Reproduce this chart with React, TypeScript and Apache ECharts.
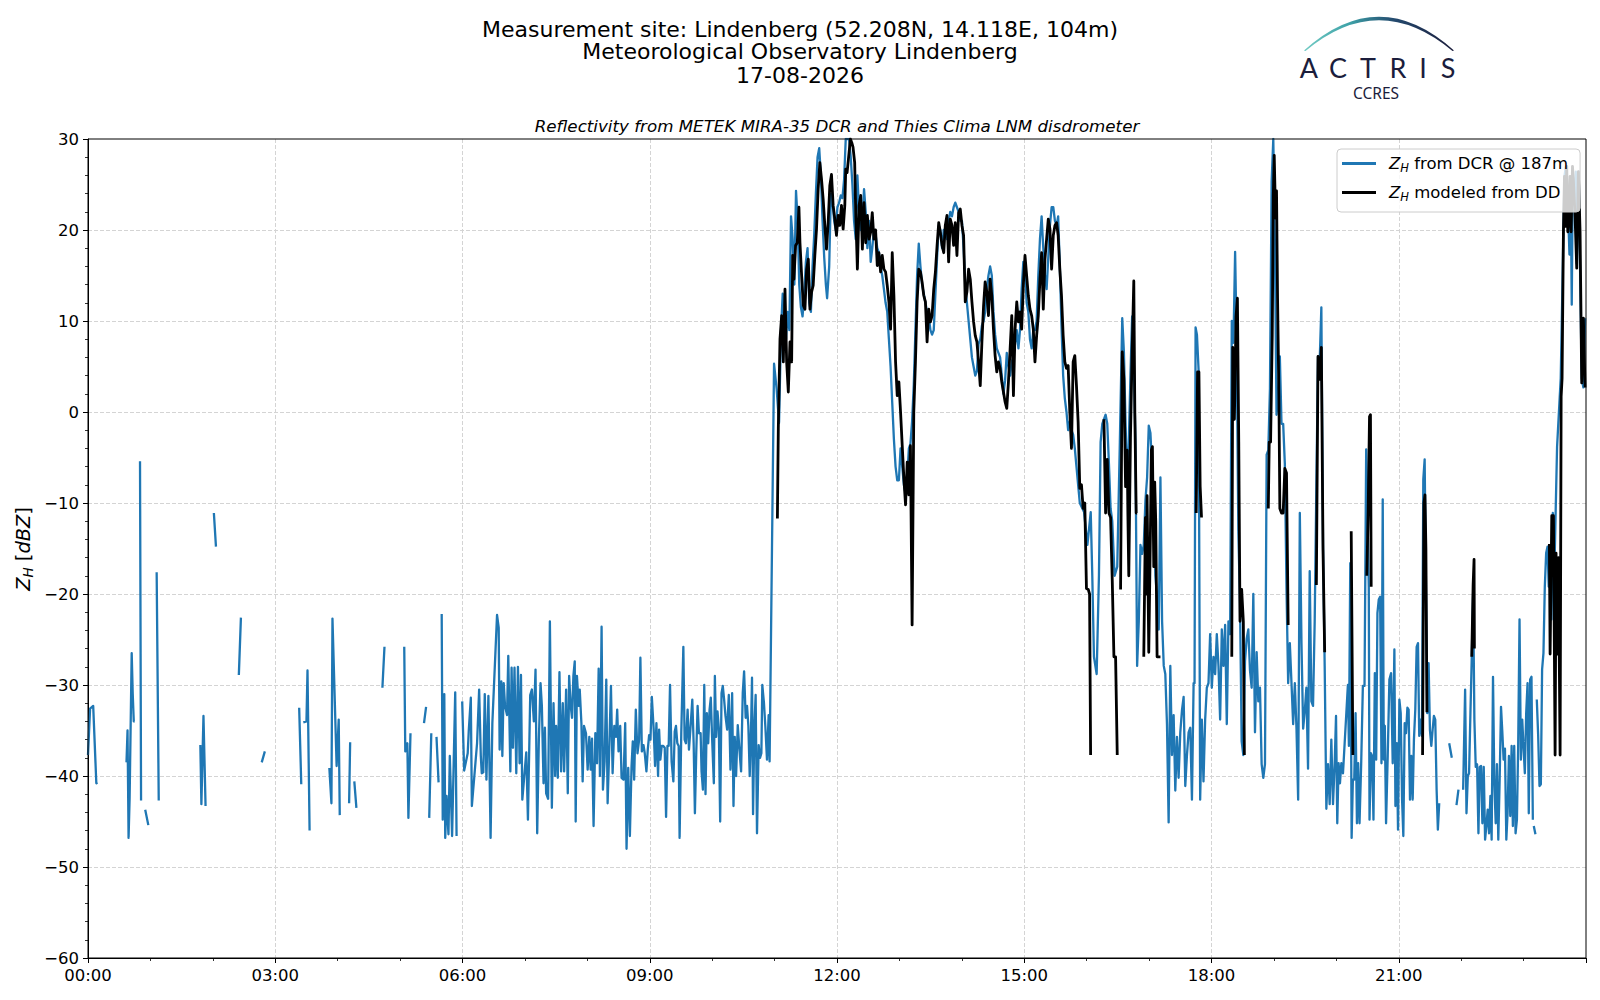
import React, { useEffect, useRef } from "react";
import * as echarts from "echarts";

// ---------- text ----------
const titleLines = [
  "Measurement site: Lindenberg (52.208N, 14.118E, 104m)",
  "Meteorological Observatory Lindenberg",
  "17-08-2026",
];
const subTitle = "Reflectivity from METEK MIRA-35 DCR and Thies Clima LNM disdrometer";
const seriesNames = ["Z_H from DCR @ 187m", "Z_H modeled from DD"];
const legendTails = [" from DCR @ 187m", " modeled from DD"];
const hourLabels = ["00:00", "03:00", "06:00", "09:00", "12:00", "15:00", "18:00", "21:00"];
const logoLetters = ["A", "C", "T", "R", "I", "S"];

// ---------- data: [minute of day, Z_H dBZ] (null = gap) ----------
type P = [number, number | null];

const dcrNight: P[] = [
  [0, -37.7], [2, -32.6], [5, -32.3], [8, -40.8], [9, -40.7], [20, null],
  [37, -38.5], [38, -35], [39, -46.8], [40, -42.5], [42, -26.5], [43, -31], [44, -34], [45, -34], [47, null],
  [50, -5.4], [51, -42.7], [53, null],
  [55, -43.7], [58, -45.4], [60, null],
  [66, -17.6], [68, -42.7], [80, null],
  [108, -36.6], [109, -43.1], [111, -33.4], [113, -43.3], [116, null],
  [121, -11.1], [123, -14.8], [130, null],
  [145, -28.9], [147, -22.6], [155, null],
  [167, -38.5], [170, -37.3], [185, null],
  [203, -32.5], [205, -40.9], [206, null],
  [207, -34.1], [210, -34], [211, -28.4], [213, -46], [220, null],
  [232, -39.1], [234, -43], [235, -22.7], [239, -38.9], [241, -33.8], [242, -44.3], [246, null],
  [251, -43], [252, -36.3], [254, null],
  [256, -40.6], [258, -43.5], [270, null],
  [283, -30.3], [285, -25.8], [295, null],
  [304, -25.8], [305, -37.3], [307, -36.4], [308, -44.6], [310, -35.3], [316, null],
  [323, -34.2], [325, -32.4], [326, null],
  [328, -44.6], [330, -35.3], [332, null],
  [335, -35.7], [337, -40.7], [338.5, null],
];

const dcrMorning: P[] = [
  [340, -22.2], [341, -44.8], [342.5, -31], [343.4, -46.8], [344.7, -42.2], [346.5, -46.4], [347.8, -37.8], [350, -46.6], [353, -30.8], [354.3, -46.6], [357, null],
  [359.7, -31.8], [361.6, -39.4], [365, -37.5], [366, -35.1], [368, -31.4], [369, -43.3], [374, -36.4], [376, -30.5], [377.6, -37.8], [378.5, -39.7],
  [380, -39.6], [381.4, -31], [383, -40.4], [384.9, -31.2], [387, -46.8], [388.7, -34.2], [393.2, -22.3], [394.8, -23.7], [395.7, -37.1], [397.3, -29.6],
  [398.3, -37.8], [399.6, -29.8], [400.9, -32.3], [402.8, -33.3], [404, -26.8], [406, -39.5], [407.2, -28.1], [408.5, -36.9], [410, -28.1], [411.7, -39.7],
  [413.3, -28], [414.9, -38.6], [416.2, -28.9], [417.5, -42.6], [421.3, -37.4], [422.9, -44.8], [425.1, -31.1], [426.7, -30.5], [428.6, -34], [430.2, -28.3],
  [431.8, -46.3], [433.4, -36], [435, -29.8], [436.3, -32.3], [437.9, -40.8], [439.2, -34.7], [440.4, -41.9], [442.3, -42.5], [444, -23], [445.9, -43.5],
  [447.5, -32], [449, -40], [450, -34.5], [451.6, -40.2], [453.2, -28.6], [454.8, -39.5], [456.4, -32], [457.7, -39.5], [459.6, -30.5], [461.2, -41.9],
  [462.5, -29], [464, -32.3], [465.3, -33.6], [466.6, -29], [467.9, -27.4], [468.8, -45], [470, -29], [471.7, -32.3], [472.7, -30.5], [474.3, -34.2],
  [475.5, -40.6], [476.8, -34.5], [478.7, -35.3], [480.3, -39.3], [481.9, -35.7], [483.2, -39.3], [484.5, -35.9], [486, -45.5], [487.7, -35.3], [489.3, -38.6],
  [490.9, -28.2], [492.1, -40], [493.7, -23.6], [495, -41.5], [496.6, -38.4], [498.2, -29.4], [499.5, -43], [501, -37.3], [502.7, -30.1], [504.3, -39.7],
  [505.9, -34.5], [507.5, -35.7], [508.7, -32.7], [510, -37.3], [511.6, -34.5], [512.9, -40.2], [514.8, -40.4], [516.4, -34.2], [517.7, -48], [519.3, -39.1],
  [520.9, -46.6], [522.5, -38.9], [523.7, -36.2], [525, -40.4], [526.6, -32.7], [528.2, -37.5], [529.8, -36], [531, -27], [532.4, -37.3], [534, -36.6],
  [535.2, -37.5], [536.8, -39.5], [538.1, -37.1], [539.4, -35.5], [540.7, -36], [542, -31.3], [543.8, -34.9], [545.1, -38.9], [546.4, -34.2], [548, -40],
  [549, -34.9], [550.2, -38.2], [551.5, -36.7], [553, -36.7], [554.4, -36.9], [555.7, -44.5], [557, -36.7], [558.2, -36.7], [559.5, -30], [561, -38.4],
  [562.7, -40.6], [564, -35.1], [565.2, -34.5], [566.5, -36.4], [567.8, -36.7], [568.7, -46.8], [570.3, -35.3], [572.3, -25.8], [573.5, -36], [574.8, -36.4],
  [576.4, -32.7], [577.7, -37.1], [579.3, -34.5], [580.9, -31.6], [582.2, -36.4], [583.4, -44.1], [584.7, -37.5], [586, -32.3], [587.3, -35.3], [588.9, -35.3],
  [589.8, -39.5], [591.1, -41.5], [592.4, -30], [593.6, -42], [594.9, -33.1], [596.2, -36.4], [597.5, -32.7], [598.7, -31.4], [600, -36], [601.6, -40.8],
  [602.6, -29], [603.8, -35.7], [605.1, -32.9], [606.4, -34.7], [607.7, -45], [609, -30.9], [610.2, -30.1], [611.5, -31.6], [612.8, -33.4], [614.4, -34.9],
  [616, -31.1], [617.6, -39.3], [619.2, -30.9], [620.5, -43.3], [621.7, -35.7], [623, -40], [624.6, -34.4], [626.2, -37.1], [627.8, -39.5], [629.4, -30.9],
  [630.7, -28.5], [632.2, -33.6], [633.5, -32.3], [634.8, -34.5], [636.1, -40], [637.4, -34.7], [638.3, -29.2], [639.3, -44.2], [640.6, -34.5], [641.8, -31.1],
  [643.1, -46.3], [644.7, -36.6], [646, -38], [647.3, -37.5], [648.2, -30], [649.8, -32], [651.1, -34.5], [652.7, -38.2], [654.3, -33.3], [655.2, -38.4],
  [657.5, -15],
];

const dcrRain: P[] = [
  [659.5, 5.3], [662, 2.5], [664.3, -1.2], [666.2, 9], [667.8, 13], [669.4, 12], [671, 8], [672.6, 11], [674.2, 9], [675.8, 21.5],
  [677.4, 19], [679, 14], [680.6, 24.3], [682.2, 21], [683.7, 14], [685.3, 11.5], [686.9, 10.5], [688.5, 13], [690.1, 16.5], [691.7, 18],
  [693.3, 12], [694.9, 11], [696.5, 16], [698.1, 19.5], [699.7, 24], [701.3, 28], [702.9, 29], [704.5, 26], [706.1, 21], [707.7, 17],
  [709.3, 14], [710.5, 12.5], [712.5, 16], [714.1, 24], [715.7, 23], [717.3, 21], [718.8, 20], [720.4, 22.5], [722, 23], [723.6, 23.8],
  [725.2, 23.5], [726.8, 25.5], [728.4, 30], [730, 30], [731.6, 30], [733.2, 28], [734.8, 25], [736.4, 21], [738, 19], [739.6, 26],
  [741.2, 22], [742.8, 20], [744.4, 21], [746, 24.5], [747.6, 22], [749.2, 18], [750.8, 21], [752.4, 16.5], [753.9, 18], [755.5, 20],
  [757.1, 19.5], [758.7, 18], [760.3, 17.5], [761.9, 16], [763.5, 15], [765.1, 13.5], [766.7, 12], [768.3, 11], [769.9, 8], [771.5, 5],
  [773.1, 1], [774.7, -3], [776.3, -6], [777.9, -7.5], [779.5, -7.5], [781.1, -4], [782.7, -6], [784.3, -8], [785.9, -9], [787.5, -7],
  [789.1, -4], [790.6, -3.5], [792.2, -1], [793.8, 3], [795.4, 9], [797, 15], [798.6, 18.5], [800.2, 16], [801.8, 14], [803.4, 13],
  [805, 12], [806.6, 11], [808.2, 10.5], [809.8, 9], [811.4, 8.5], [813, 9], [814.6, 13], [816.2, 17], [817.8, 20.5], [819.4, 20],
  [821, 18], [822.6, 20], [824.1, 19.5], [825.7, 19], [827.3, 21], [828.9, 22], [830.5, 21.5], [832.1, 22.5], [833.7, 23], [835.3, 22.5],
  [836.9, 22], [838.5, 21], [840.1, 21], [841.7, 18], [843.3, 14], [844.9, 12], [846.5, 10], [848.1, 8], [849.7, 6], [851.3, 5],
  [852.9, 4], [854.5, 4.5], [856.1, 7.5], [857.7, 8], [859.3, 9.5], [860.9, 10], [862.4, 11], [864, 13.5], [865.6, 15], [867.2, 16],
  [868.8, 15], [870.4, 11], [872, 8.5], [873.6, 7], [875.2, 6.5], [876.8, 6], [878.4, 4], [880, 2], [881.6, 3.5], [883.2, 6.5],
  [884.8, 5], [886.4, 4], [888, 5.5], [889.6, 6], [891.2, 7.5], [892.8, 9], [894.4, 7], [895.9, 9], [897.5, 13.5], [899.1, 16.5],
  [900.7, 16], [902.3, 12], [903.9, 11], [905.5, 8], [907.1, 7], [908.7, 9], [910.3, 9], [911.9, 10], [913.5, 15], [915.1, 19],
  [916.7, 21.5], [918.3, 18], [919.9, 15], [921.5, 13.5], [923.1, 17], [924.7, 20.5], [926.3, 22.5], [927.9, 22.5], [929.5, 21], [931.1, 20.5],
  [932.6, 21.5], [934.2, 16], [935.8, 9.5], [937.4, 4], [939, 1.5], [940.6, 0], [942.2, -2], [943.8, -1], [945.4, -2], [947, -2.5],
  [948.6, -4], [950.2, -6], [951.8, -8], [953.4, -10],
];

const dcrEvening: P[] = [
  [957.5, -11], [960.7, -14.6], [963.9, -11], [965.4, -18], [967, -26.9], [969.6, -28.8], [971.8, -18], [973.4, -3.3], [975, -1.3], [978.2, -0.3],
  [979.8, -1.3], [981.4, -5.7], [983, -10.6], [984.6, -12], [986.8, -18], [989.4, -17], [991.9, -3.3], [994.2, 10.3], [995.8, 6.6], [997.4, -1.3],
  [999, -8.2], [1000.5, -3.3], [1002.1, 4.1], [1003.7, 10.5], [1005.3, 5.6], [1006.9, -3.3], [1008.5, -27.9], [1010.1, -23], [1011.7, -14.6], [1013.3, -15.6],
  [1014.9, -14.6], [1016.5, -9.7], [1018.1, -7.2], [1019.7, -1.5], [1021.3, -2.3], [1022.9, -6.2], [1024.5, -10.2], [1026.1, -18], [1027.7, -20.5], [1029.3, -23.9],
  [1030.9, -7.2], [1032.5, -23], [1034.1, -27.9], [1035.6, -28.8], [1037.2, -34.3], [1038.8, -45.1], [1040.4, -27.9], [1042, -37.7], [1043.6, -33.3], [1045.2, -41.6],
  [1046.8, -35.7], [1048.4, -40.2], [1050, -35.2], [1051.6, -32.8], [1053.2, -31.3], [1054.8, -41.1], [1056.4, -37.7], [1058, -35.2], [1059.6, -34.7], [1061.2, -42.6],
  [1062.8, -29.8], [1063.7, -29.8], [1064.7, 9.3], [1066, 8.5], [1067.6, 4.6], [1069.1, -42.6], [1070.7, -33.8], [1072.3, -40.6], [1073.9, -33.8], [1075.5, -30.3],
  [1077.1, -29.8], [1078.7, -24.4], [1080.3, -30.3], [1081.9, -26.9], [1083.5, -28.8], [1085.1, -24.4], [1086.7, -27.9], [1088.3, -33.8], [1089.9, -23.9], [1091.5, -27.9],
  [1093.1, -23.4], [1094.7, -34.3], [1096.3, -23], [1097.9, -24.4], [1099.5, 10], [1101.1, 7.6], [1102.7, 17.6], [1104.2, 7.6], [1105.8, -13.1], [1107.4, -21],
  [1109, -36.2], [1110.6, -37.7], [1112.2, -27.4], [1113.8, -24.9], [1115.4, -23.9], [1117, -28.4], [1118.6, -30.3], [1120.2, -20], [1121.8, -35.2], [1123.4, -26.4],
  [1125, -31.8], [1126.6, -30.3], [1128.2, -38.7], [1129.8, -40.2], [1131.4, -38.7], [1133, -4.7], [1134.6, -4.2], [1136.2, 2.6], [1137.8, 25.3], [1139.4, 30],
  [1140.9, 18.9], [1142.5, -0.3], [1144.1, 1.7], [1145.7, 6.1], [1147.3, -1.3], [1148.9, -1.3], [1150.5, -5.7], [1152.1, -19.5], [1153.7, -29.8], [1155.3, -25.4],
  [1156.9, -29.8], [1158.5, -34.3], [1160.1, -29.8], [1161.7, -34.8], [1163.3, -42.6], [1164.9, -11.1], [1166.5, -25.4], [1168.1, -34.8], [1169.7, -32.8], [1171.2, -30.3],
  [1172.8, -39.2], [1174.4, -17.5], [1176, -31.8], [1177.6, -32.3], [1179.2, -23], [1180.8, -8.2], [1182.4, 6.1], [1184, 5.6], [1185.6, 11.5], [1187.2, -14.6],
  [1188.8, -27.9], [1190.4, -43.6], [1192, -38.7], [1193.6, -43.1], [1195.2, -36], [1196.8, -43.1], [1198.4, -38.7], [1199.7, -33.4], [1200.9, -45.2], [1202.2, -38.6],
  [1203.5, -40.8], [1204.8, -38.6], [1206.4, -39.7], [1208, -36.4], [1209.6, -33.1], [1211.1, -30], [1212.1, -36.7], [1213.4, -16.6], [1214.7, -46.8], [1215.9, -40.4],
  [1217.2, -40.4], [1218.5, -33.1], [1219.8, -45.2], [1221, -38.6], [1222.3, -45.2], [1223.9, -38.6], [1225.5, -30.1], [1227.1, -30.1], [1228.7, -4.1], [1230, -11.1],
  [1231.2, -19.2], [1231.9, -44.8], [1233.2, -37.5], [1234.4, -37.8], [1235.7, -44.8], [1237, -28.7], [1238.3, -38.2], [1239.5, -22.1], [1240.8, -20.6], [1242.1, -20.3],
  [1243.4, -38.6], [1244.6, -9.6], [1245.6, -38.2], [1246.6, -34.5], [1247.8, -45.2], [1249.4, -37.8], [1251, -29.4], [1252.6, -28.7], [1254.2, -38.6], [1255.8, -26.1],
  [1256.8, -43.3], [1258.1, -36.4], [1259.3, -45.9], [1260.6, -31.6], [1261.9, -33.1], [1263.2, -42.6], [1264.4, -46.6], [1265.7, -34.2], [1267, -35.3], [1268.3, -32.5],
  [1269.5, -32.7], [1270.8, -42.6], [1272.1, -37.8], [1273.4, -42.6], [1274.6, -36], [1275.9, -32.7], [1277.2, -25.8], [1278.5, -25.4], [1279.7, -35.6], [1281, -33.8],
  [1282.3, -35.6], [1283.6, -7.4], [1284.9, -5.2], [1286.1, -18.4], [1287.4, -33.1], [1288.7, -27.6], [1290, -35], [1291.3, -36.7], [1292.5, -35], [1293.8, -33.4],
  [1295.1, -33.8], [1296.4, -41.5], [1297.6, -45.9], [1298.9, -43], [1303, null],
  [1308.5, -36.4], [1311, -38], [1313, null],
  [1315.5, -43.2], [1317.4, -41.5], [1319.5, null],
  [1321.9, -41.5], [1323.8, -30.5], [1325.1, -44.1], [1326.4, -40], [1327.6, -39.7], [1328.9, -33.1], [1330.2, -26.9], [1331.5, -19.9], [1332.7, -33.8], [1334, -39],
  [1335.3, -38.7], [1336.6, -46.3], [1337.8, -39], [1339.1, -38.9], [1340.4, -45.2], [1341.7, -39], [1343, -47], [1344.2, -45.5], [1345.5, -43.7], [1346.8, -46.3],
  [1348.1, -42.2], [1349.3, -47], [1350.6, -29.1], [1351.9, -40.8], [1353.2, -45.2], [1354.4, -38.7], [1355.7, -47], [1357, -40.4], [1358.3, -32.4], [1359.5, -35],
  [1360.8, -38.2], [1362.1, -37], [1363.4, -47], [1364.6, -44.1], [1365.9, -37.8], [1367.2, -44.4], [1368.5, -36.7], [1369.7, -45.5], [1371, -36.7], [1372.3, -46.3],
  [1373.6, -44.8], [1374.8, -36.7], [1376.1, -22.8], [1377.4, -38.2], [1378.7, -33.8], [1379.9, -36.7], [1381.2, -39.7], [1382.5, -33.1], [1383.8, -29.8], [1385, -44.1],
  [1386.3, -29.4], [1387.6, -29.1], [1388.9, -44.8], [1389.3, null],
  [1389.8, -45.5], [1391.4, -46.4], [1392, null],
  [1392.7, -31.6], [1394, -35.5], [1395.3, -41.1], [1396.6, -40.9], [1397.8, -28.3], [1399.1, -26.5], [1400.4, -19.2], [1401.7, -15.5], [1403, -14.8], [1404.2, -19.2],
  [1405.5, -14.8], [1406.8, -22.8], [1408.1, -11.1], [1409.3, -19.2], [1410.6, -12.2], [1412.2, -3.8], [1415.7, 3.7], [1416.7, 9.8], [1418.3, 19.8], [1419.3, 25.9],
  [1420.5, 26.9], [1421.5, 26], [1423.1, 20.9], [1424.1, 17.3], [1425.3, 24.9], [1426.3, 11.8], [1427.3, 26], [1428.6, 23.9], [1430.2, 26.4], [1431.1, 16.3],
  [1432.1, 24], [1433, 26.4], [1434.3, 15.8], [1435.9, 3.7], [1437.5, 2.7], [1439.1, 10.3],
];

const ddRain: P[] = [
  [662.7, -11.7], [663.6, -1.8], [665.2, 8], [666.8, 10.6], [668.4, 5.5], [670, 13.5], [671.6, 5.5], [673.2, 2.2], [674.8, 7.7], [676.4, 5.5],
  [677.4, 17.2], [678.6, 14.6], [680.2, 18.3], [681.8, 18.6], [683.4, 22.5], [684.4, 18.6], [686, 15], [687.6, 11.7], [689.2, 11.3], [690.8, 15.7],
  [692.4, 16.8], [694, 11.3], [695.6, 13.2], [697.1, 13.9], [698.7, 17.2], [700.3, 20.1], [701.9, 24.5], [703.5, 27.4], [705.1, 25.6], [706.7, 23.4],
  [708.3, 20.5], [709.9, 17.9], [711.5, 20.8], [713.1, 24.9], [714.7, 26.1], [716.3, 22.7], [717.9, 21.2], [719.5, 19.4], [721.1, 21.6], [722.7, 20.5],
  [724.3, 22.7], [725.9, 20.1], [727.5, 22.7], [728.4, 26.7], [729.7, 26.3], [731.6, 28.5], [732.9, 30], [734.2, 29.6], [735.4, 29.1], [737, 27.4],
  [738, 21.9], [739.6, 15.7], [741.2, 22.7], [742.8, 23.8], [744.4, 17.9], [746, 23], [747.6, 18.6], [749.2, 21.6], [750.8, 19], [752.4, 19.8],
  [753.9, 21.9], [755.5, 19], [757.1, 20], [758.7, 16.1], [760.3, 17.5], [761.9, 15.4], [763.5, 17.2], [765.1, 15.7], [766.7, 15.4], [768.3, 13.9],
  [769.9, 12.1], [771.5, 9.1], [773.1, 17.5], [774.7, 12.8], [776.3, 5.5], [777.9, 1.8], [779.5, 3.3], [781.1, 0], [782.7, -3.7], [784.3, -7.3],
  [785.9, -10.2], [787.5, -5.5], [789.1, -9.1], [790.6, -3.7], [792.2, -23.4], [793.8, 0], [795.4, 5.5], [797, 12.1], [798.6, 15.7], [800.2, 15.4],
  [801.8, 14.3], [803.4, 12.8], [805, 12.1], [806.6, 7.7], [808.2, 11.3], [809.8, 9.9], [811.4, 10.6], [813, 13.5], [814.6, 15.4], [816.2, 18.3],
  [817.8, 20.8], [819.4, 19.7], [821, 18.3], [822.6, 17.5], [824.1, 20.5], [825.7, 21.6], [827.3, 16.5], [828.9, 21.2], [830.5, 20.5], [832.1, 18.3],
  [833.7, 20.8], [835.3, 17.2], [836.9, 21.9], [838.5, 22.3], [840.1, 20.5], [841.7, 19.4], [843.3, 12.1], [844.9, 13.2], [846.5, 15.7], [848.1, 14.6],
  [849.7, 12.1], [851.3, 9.9], [852.9, 8.4], [854.5, 7.7], [856.1, 5.5], [857.7, 2.9], [859.3, 7.7], [860.9, 11.7], [862.4, 14.3], [864, 13.2],
  [865.6, 10.6], [867.2, 14.6], [868.8, 12.8], [870.4, 9.1], [872, 6.2], [873.6, 4.4], [875.2, 5.5], [876.8, 4.8], [878.4, 3.3], [880, 2.2],
  [881.6, 1.1], [883.2, 0.4], [884.8, 3.3], [886.4, 6.9], [888, 10.6], [889.6, 1.8], [891.2, 9.1], [892.8, 12.1], [894.4, 9.9], [895.9, 11],
  [897.5, 9.1], [899.1, 13.9], [900.7, 17.2], [902.3, 15], [903.9, 12.8], [905.5, 11.3], [907.1, 10.6], [908.7, 9.1], [910.3, 5.5], [911.9, 8.4],
  [913.5, 10.6], [915.1, 14.6], [916.7, 17.5], [918.3, 11.3], [919.9, 16.8], [921.5, 19], [923.1, 21.2], [924.7, 20.1], [926.3, 15.7], [927.9, 19.4],
  [929.5, 20.5], [931.1, 20.8], [932.6, 19.4], [934.2, 15.7], [935.8, 12.8], [937.4, 8.4], [939, 5.5], [940.6, 4.8], [942.2, 5.1], [943.8, 0],
  [945.4, -4], [947, 5.5], [948.6, 6.2], [950.2, 2.9], [951.8, -1.1], [953.4, -8.4], [955, -8], [956.6, -10.6], [958.2, -10], [959.8, -19.4],
  [961.5, -19.5], [962.8, -20], [963.8, -37.7], [965, null],
];

const ddShowers: P[] = [
  [976.6, -0.8], [978.2, -11.1], [979.8, -5.2], [981.4, -11.1], [983, -11.6], [984.6, -18.5], [986.2, -26.9], [987.8, -26.9], [989.4, -37.7], [991, null],
  [992.6, -19.5], [994.2, 6.6], [995.8, 3.6], [997.4, -8.2], [999, -4.2], [999.6, -11.1], [1000.5, -18], [1002.1, -2.8], [1003.7, 6.6], [1005.3, 14.4],
  [1006.3, 0], [1007.6, -11.1], [1008.5, -11.1], [1010, null],
  [1014.9, -26.9], [1016.5, -11.6], [1017.5, -20], [1018.1, -9.2], [1019.7, -26.4], [1021.3, -13.1], [1022.2, -4.2], [1023.2, -3.8], [1024.5, -17], [1025.4, -7.7],
  [1026.4, -12], [1027.7, -26.9], [1030.9, -26.9], [1033, null],
  [1065.3, -11.1], [1066.6, 4.4], [1067.9, 4.4], [1069.1, -8.2], [1070.4, -11.6], [1072, null],
  [1099.5, -26.9], [1100.4, 7.1], [1102, -0.8], [1103.6, 10.5], [1104.9, 12.5], [1106.2, -3.3], [1107.4, -23], [1109, -19.5], [1110.6, -23], [1111.6, -37.7], [1113, null],
  [1134.6, -10.6], [1135.5, -3.3], [1136.8, -3.3], [1138.4, 8.5], [1139.4, 23.8], [1140.3, 28.2], [1141.6, 21.3], [1142.5, 24.3], [1143.5, 12.5], [1144.8, 1.7],
  [1145.7, -10.6], [1147.3, -11.1], [1148.9, -11.1], [1150.5, -6.2], [1152.1, -6.7], [1153.7, -23.4], [1155, null],
  [1180.8, -19], [1182.4, 6.1], [1184, 3.6], [1185.6, 7.1], [1187.2, -15.1], [1188.8, -26.4], [1190, null],
  [1214.3, -13.1], [1215.9, -37.7], [1217, null],
  [1229.3, -18], [1230.6, -10.9], [1231.9, -0.5], [1232.8, -0.3], [1233.5, -19.2], [1235, null],
  [1282.9, -37.7], [1284.2, -10], [1285.2, -9.1], [1286.1, -15], [1287.1, -33], [1289, null],
  [1330.2, -26.9], [1331.5, -19], [1332.4, -16.2], [1332.7, -26], [1334, null],
  [1404.8, -14.5], [1405.5, -26.6], [1407.1, -11.4], [1408.7, -11.4], [1410.3, -37.7], [1411.2, -15.5], [1412.5, -26.6], [1413.5, -16], [1415.1, -37.7], [1416.1, 1.7],
  [1417, 3.7], [1418.3, 19.8], [1419.3, 25.9], [1420.5, 20.4], [1421.5, 27], [1422.5, 19.8], [1423.7, 21.4], [1424.7, 25.9], [1425.7, 19.8], [1427, 27],
  [1427.9, 25.4], [1429.5, 21.4], [1431.1, 15.8], [1432.7, 26.4], [1434.3, 19.8], [1435.9, 3.2], [1437.5, 10.3], [1439.1, 2.7],
];

const FONT = "DejaVu Sans";
const NAVY = "#1b1d3c";

echarts.graphic.registerShape(
  "actrisArc",
  echarts.graphic.extendPath("M1304,50.5 Q1379,-17 1454,50.5 L1452.5,51 Q1379,-10.5 1305.5,51 Z", {})
);

const toSeries = (pts: P[]) => pts.map(([t, v]) => [t, v === null ? "-" : v]);

export default function App() {
  const ref = useRef<HTMLDivElement>(null);

  useEffect(() => {
    if (!ref.current) return;
    const chart = echarts.init(ref.current, null, { renderer: "svg" });

    const dcrData = toSeries([...dcrNight, ...dcrMorning, ...dcrRain, ...dcrEvening]);
    const ddData = toSeries([...ddRain, ...ddShowers]);

    const letterX = [1309, 1338, 1368, 1398, 1423, 1448];
    const GL = 88, GT = 139, GW = 1498, GH = 819;

    const option: any = {
      animation: false,
      backgroundColor: "#ffffff",
      textStyle: { fontFamily: FONT },
      grid: { left: GL, top: GT, width: GW, height: GH, show: false, containLabel: false },
      xAxis: {
        type: "value",
        min: 0,
        max: 1440,
        interval: 180,
        axisLine: { show: true, onZero: false, lineStyle: { color: "#000", width: 1 } },
        axisTick: { show: true, length: 5, lineStyle: { color: "#000", width: 1 } },
        minorTick: { show: true, splitNumber: 3, length: 3, lineStyle: { color: "#000", width: 0.8 } },
        axisLabel: {
          color: "#000",
          fontSize: 16.5,
          fontFamily: FONT,
          margin: 9,
          formatter: (v: number) => hourLabels[Math.round(v / 180)] ?? "",
        },
        splitLine: { show: true, showMinLine: false, showMaxLine: false, lineStyle: { color: "#d4d4d4", width: 1, type: [4, 2] } },
      },
      yAxis: {
        type: "value",
        min: -60,
        max: 30,
        interval: 10,
        axisLine: { show: true, onZero: false, lineStyle: { color: "#000", width: 1 } },
        axisTick: { show: true, length: 5, lineStyle: { color: "#000", width: 1 } },
        minorTick: { show: true, splitNumber: 5, length: 3, lineStyle: { color: "#000", width: 0.8 } },
        axisLabel: {
          color: "#000",
          fontSize: 16.5,
          fontFamily: FONT,
          margin: 9,
          formatter: (v: number) => (v < 0 ? "\u2212" + Math.abs(v) : String(v)),
        },
        splitLine: { show: true, showMinLine: false, showMaxLine: false, lineStyle: { color: "#d4d4d4", width: 1, type: [4, 2] } },
      },
      legend: {
        orient: "vertical",
        left: 1337,
        top: 149,
        padding: [6, 12, 9, 5],
        itemGap: 10,
        itemWidth: 34,
        itemHeight: 2.8,
        icon: "rect",
        backgroundColor: "rgba(255,255,255,0.8)",
        borderColor: "#cccccc",
        borderWidth: 1,
        borderRadius: 4,
        data: seriesNames,
        formatter: (name: string) => {
          const i = seriesNames.indexOf(name);
          return "{z|Z}{h|H}{t|" + legendTails[i] + "}";
        },
        textStyle: {
          color: "#000",
          fontFamily: FONT,
          fontSize: 16.5,
          rich: {
            z: { fontFamily: FONT, fontStyle: "italic", fontSize: 16.5, lineHeight: 21, padding: [0, 0, 0, 8], color: "#000" },
            h: { fontFamily: FONT, fontStyle: "italic", fontSize: 11.5, verticalAlign: "bottom", lineHeight: 13, color: "#000" },
            t: { fontFamily: FONT, fontSize: 16.5, lineHeight: 21, color: "#000" },
          },
        },
      },
      series: [
        {
          name: seriesNames[0],
          type: "line",
          data: dcrData,
          showSymbol: false,
          symbol: "none",
          connectNulls: false,
          silent: true,
          color: "#1f77b4",
          lineStyle: { color: "#1f77b4", width: 2.3, join: "round" },
          z: 2,
        },
        {
          name: seriesNames[1],
          type: "line",
          data: ddData,
          showSymbol: false,
          symbol: "none",
          connectNulls: false,
          silent: true,
          color: "#000000",
          lineStyle: { color: "#000000", width: 2.8, join: "round" },
          z: 3,
        },
      ],
      graphic: [
        {
          type: "rect",
          silent: true,
          z: 100,
          shape: { x: GL, y: GT, width: GW, height: GH },
          style: { fill: "none", stroke: "#000", lineWidth: 1 },
        },
        ...titleLines.map((t, i) => ({
          type: "text",
          x: 800,
          y: [29, 51.5, 75][i],
          silent: true,
          style: { text: t, fontFamily: FONT, fontSize: 22, fill: "#000", align: "center", verticalAlign: "middle" },
        })),
        {
          type: "text",
          x: 837,
          y: 126,
          silent: true,
          style: { text: subTitle, fontFamily: FONT, fontStyle: "italic", fontSize: 16.7, fill: "#000", align: "center", verticalAlign: "middle" },
        },
        {
          type: "text",
          x: 23,
          y: 549,
          rotation: Math.PI / 2,
          silent: true,
          style: {
            text: "{z|Z}{h|H}{t| [}{z|dBZ}{t|]}",
            align: "center",
            verticalAlign: "middle",
            fill: "#000",
            rich: {
              z: { fontFamily: FONT, fontStyle: "italic", fontSize: 19.4, lineHeight: 24, fill: "#000" },
              h: { fontFamily: FONT, fontStyle: "italic", fontSize: 13.6, verticalAlign: "bottom", lineHeight: 15, fill: "#000" },
              t: { fontFamily: FONT, fontSize: 19.4, lineHeight: 24, fill: "#000" },
            },
          },
        },
        // ACTRIS logo
        {
          type: "actrisArc",
          x: 0,
          y: 0,
          silent: true,
          style: {
            fill: {
              type: "linear",
              x: 0,
              y: 0,
              x2: 1,
              y2: 0,
              colorStops: [
                { offset: 0, color: "#72cbc4" },
                { offset: 0.3, color: "#3ea2a8" },
                { offset: 0.6, color: "#244a6e" },
                { offset: 1, color: "#1b1d3c" },
              ],
            },
            stroke: "none",
          },
        },
        {
          type: "line",
          silent: true,
          shape: { x1: 1423.5, y1: 2, x2: 1423.5, y2: 46 },
          style: {
            lineWidth: 1.8,
            stroke: {
              type: "linear",
              x: 0,
              y: 0,
              x2: 0,
              y2: 1,
              colorStops: [
                { offset: 0, color: "rgba(27,29,60,0.2)" },
                { offset: 0.35, color: "rgba(27,29,60,0.95)" },
                { offset: 1, color: NAVY },
              ],
            },
          },
        },
        ...logoLetters.map((ch, i) => ({
          type: "text",
          x: letterX[i],
          y: 67.5,
          silent: true,
          style: {
            text: ch,
            fontFamily: "Lato",
            fontWeight: "normal",
            fontSize: 27,
            fill: NAVY,
            align: "center",
            verticalAlign: "middle",
          },
        })),
        {
          type: "text",
          x: 1376,
          y: 92.5,
          silent: true,
          style: { text: "CCRES", fontFamily: "Noto Sans", fontSize: 15.5, fill: NAVY, align: "center", verticalAlign: "middle" },
        },
      ],
    };

    chart.setOption(option);
    return () => chart.dispose();
  }, []);

  return (
    <div
      ref={ref}
      style={{ position: "absolute", left: 0, top: 0, width: 1600, height: 1000, background: "#fff" }}
    />
  );
}
